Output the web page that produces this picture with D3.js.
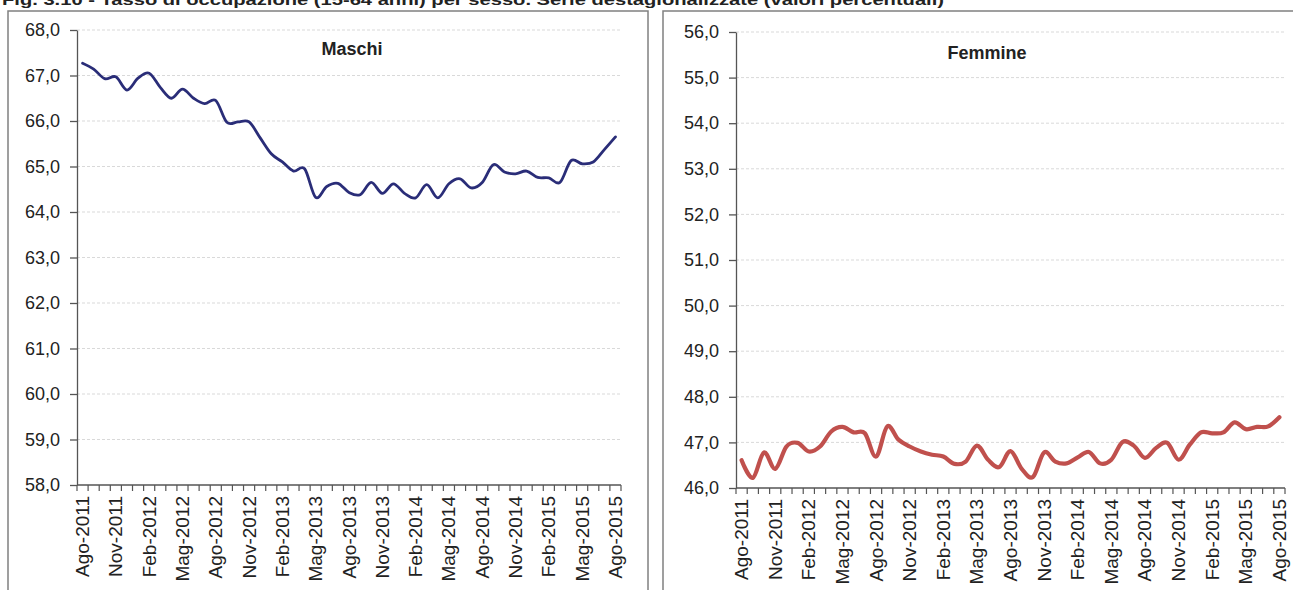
<!DOCTYPE html>
<html><head><meta charset="utf-8">
<script src="https://cdn.jsdelivr.net/npm/d3@7"></script>
<style>
body{margin:0;background:#fff;}
svg{display:block;font-family:"Liberation Sans",Arial,sans-serif;}
</style></head>
<body><svg id="c" width="1293" height="590"></svg>
<script>
const categories = ["Ago-2011","Set-2011","Ott-2011","Nov-2011","Dic-2011","Gen-2012","Feb-2012","Mar-2012","Apr-2012","Mag-2012","Giu-2012","Lug-2012",
"Ago-2012","Set-2012","Ott-2012","Nov-2012","Dic-2012","Gen-2013","Feb-2013","Mar-2013","Apr-2013","Mag-2013","Giu-2013","Lug-2013",
"Ago-2013","Set-2013","Ott-2013","Nov-2013","Dic-2013","Gen-2014","Feb-2014","Mar-2014","Apr-2014","Mag-2014","Giu-2014","Lug-2014",
"Ago-2014","Set-2014","Ott-2014","Nov-2014","Dic-2014","Gen-2015","Feb-2015","Mar-2015","Apr-2015","Mag-2015","Giu-2015","Lug-2015","Ago-2015"];
const tickLabels = ["Ago-2011","Nov-2011","Feb-2012","Mag-2012","Ago-2012","Nov-2012","Feb-2013","Mag-2013","Ago-2013","Nov-2013","Feb-2014","Mag-2014","Ago-2014","Nov-2014","Feb-2015","Mag-2015","Ago-2015"];
const maschi = [67.27,67.14,66.93,66.97,66.68,66.94,67.05,66.74,66.50,66.70,66.50,66.38,
66.45,65.97,65.98,65.98,65.63,65.28,65.10,64.90,64.95,64.32,64.56,64.63,
64.43,64.38,64.65,64.41,64.62,64.41,64.31,64.60,64.31,64.62,64.73,64.53,
64.65,65.04,64.88,64.84,64.90,64.76,64.75,64.65,65.13,65.06,65.10,65.37,65.65];
const femmine = [46.61,46.22,46.78,46.42,46.91,46.99,46.80,46.91,47.24,47.34,47.22,47.20,
46.69,47.35,47.06,46.91,46.80,46.73,46.69,46.53,46.58,46.93,46.62,46.46,
46.81,46.42,46.24,46.78,46.58,46.54,46.67,46.79,46.54,46.62,47.01,46.93,
46.66,46.88,46.99,46.62,46.95,47.22,47.20,47.22,47.44,47.29,47.34,47.35,47.55];
const maschiTicks = [58,59,60,61,62,63,64,65,66,67,68];
const femmineTicks = [46,47,48,49,50,51,52,53,54,55,56];
const titleText = "Fig. 3.10 - Tasso di occupazione (15-64 anni) per sesso. Serie destagionalizzate (valori percentuali)";

const svg = d3.select("#c");
svg.append("text").attr("x",2).attr("y",5).attr("font-weight","bold").attr("font-size",15)
  .attr("fill","#222").attr("textLength",942).attr("lengthAdjust","spacingAndGlyphs").text(titleText);

const fmt = d => d.toFixed(1).replace(".", ",");

function panel(cfg){
  const g = svg.append("g");
  g.append("rect").attr("x",cfg.frame[0]).attr("y",11).attr("width",cfg.frame[1]-cfg.frame[0]).attr("height",600)
    .attr("fill","#fff").attr("stroke","#808080").attr("stroke-width",1.5);
  const x = d3.scaleBand().domain(categories).range(cfg.xr).padding(0);
  const y = d3.scaleLinear().domain(cfg.dom).range(cfg.yr);
  // grid
  g.append("g").selectAll("line").data(cfg.ticks.slice(1)).join("line")
    .attr("x1",cfg.xr[0]).attr("x2",cfg.xr[1]).attr("y1",d=>y(d)).attr("y2",d=>y(d))
    .attr("stroke","#d9d9d9").attr("stroke-width",1).attr("stroke-dasharray","3,2");
  // y axis
  const ya = g.append("g").attr("transform",`translate(${cfg.xr[0]},0)`)
    .call(d3.axisLeft(y).tickValues(cfg.ticks).tickFormat(fmt).tickSize(7).tickSizeOuter(0).tickPadding(10));
  ya.select(".domain").attr("stroke","#555").attr("stroke-width",1.3);
  ya.selectAll(".tick line").attr("stroke","#555").attr("stroke-width",1.3);
  ya.selectAll("text").attr("font-size",18).attr("fill","#222").attr("font-family","Liberation Sans, Arial, sans-serif");
  // x axis
  const y0 = cfg.yr[0];
  g.append("line").attr("x1",cfg.xr[0]).attr("x2",cfg.xr[1]).attr("y1",y0).attr("y2",y0).attr("stroke","#555").attr("stroke-width",1.3);
  const bounds = categories.map(c=>x(c)).concat([x(categories[categories.length-1])+x.bandwidth()]);
  g.append("g").selectAll("line").data(bounds).join("line")
    .attr("x1",d=>d).attr("x2",d=>d).attr("y1",y0).attr("y2",y0+6).attr("stroke","#555").attr("stroke-width",1.2);
  g.append("g").selectAll("text").data(tickLabels).join("text")
    .attr("transform",d=>`translate(${x(d)+x.bandwidth()/2+6.5},${y0+11}) rotate(-90)`)
    .attr("text-anchor","end").attr("font-size",19).attr("fill","#222").text(d=>d);
  // line
  const line = d3.line().x((d,i)=>x(categories[i])+x.bandwidth()/2).y(d=>y(d)).curve(d3.curveCatmullRom.alpha(0));
  g.append("path").datum(cfg.data).attr("d",line).attr("fill","none")
    .attr("stroke",cfg.color).attr("stroke-width",cfg.width).attr("stroke-linejoin","round").attr("stroke-linecap","round");
  g.append("text").attr("x",cfg.titleX).attr("y",cfg.titleY).attr("text-anchor","middle").attr("font-weight","bold")
    .attr("font-size",18).attr("fill","#222").text(cfg.title);
}

panel({frame:[8,648], xr:[77,621], yr:[485,30], dom:[58,68], ticks:maschiTicks, data:maschi, color:"#2a2d78", width:2.8, title:"Maschi", titleX:352, titleY:55});
panel({frame:[663,1300], xr:[736,1285], yr:[488,32], dom:[46,56], ticks:femmineTicks, data:femmine, color:"#c0504d", width:4.2, title:"Femmine", titleX:987, titleY:59});
</script></body></html>
